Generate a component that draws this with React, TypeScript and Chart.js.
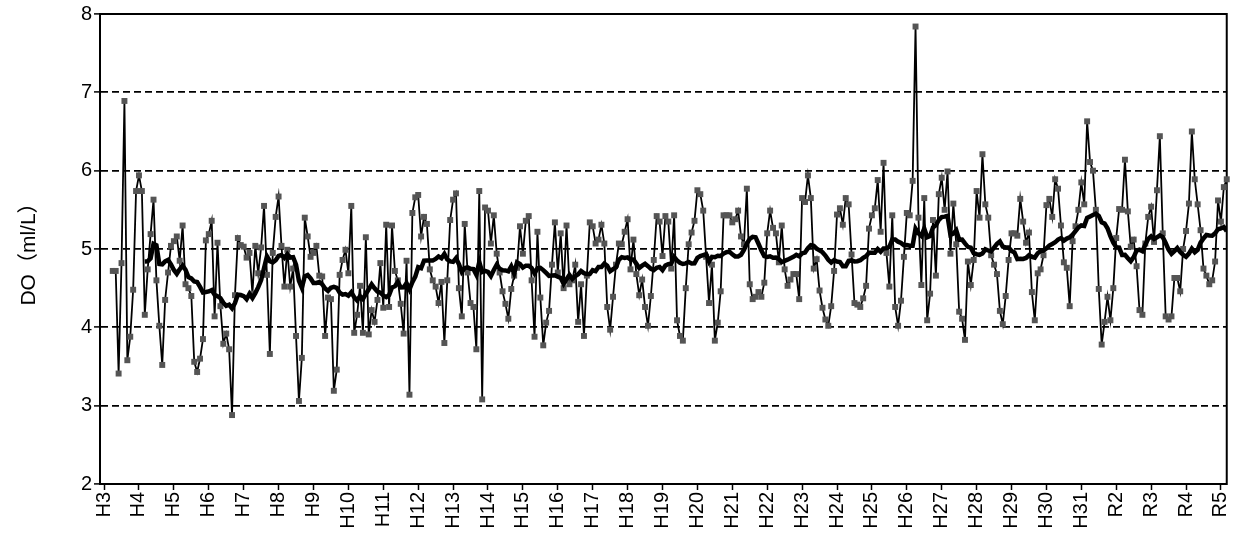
import React, { useEffect, useRef } from 'react';
import { Chart, registerables } from 'chart.js';

Chart.register(...registerables);

// Fiscal-year tick labels (one every 12 months)
const yearLabels = [
  'H3', 'H4', 'H5', 'H6', 'H7', 'H8', 'H9', 'H10', 'H11', 'H12', 'H13', 'H14',
  'H15', 'H16', 'H17', 'H18', 'H19', 'H20', 'H21', 'H22', 'H23', 'H24', 'H25',
  'H26', 'H27', 'H28', 'H29', 'H30', 'H31', 'R2', 'R3', 'R4', 'R5',
];
const monthsPerYear = 12;
// month (counted from the H3 tick) of the first observation
const firstMonth = 3;
// period of the moving-average trend line
const maPeriod = 12;
const yTickValues = [2, 3, 4, 5, 6, 7, 8];

// Monthly DO observations (ml/L)
const doValues = [
  4.72, 4.72, 3.41, 4.82, 6.89, 3.58, 3.88, 4.48, 5.74, 5.94,
  5.74, 4.16, 4.74, 5.19, 5.63, 4.6, 4.02, 3.52, 4.35, 4.7,
  5.04, 5.10, 5.16, 4.85, 5.30, 4.55, 4.5, 4.4, 3.56, 3.43,
  3.6, 3.85, 5.11, 5.19, 5.36, 4.14, 5.08, 4.27, 3.79, 3.92,
  3.72, 2.88, 4.41, 5.14, 5.05, 5.03, 4.89, 4.95, 4.43, 5.04,
  4.69, 5.02, 5.55, 4.67, 3.66, 4.95, 5.41, 5.67, 5.04, 4.52,
  4.99, 4.52, 4.75, 3.89, 3.06, 3.61, 5.40, 5.16, 4.90, 4.95,
  5.04, 4.66, 4.65, 3.89, 4.38, 4.36, 3.19, 3.46, 4.67, 4.86,
  4.99, 4.69, 5.55, 3.93, 4.16, 4.53, 3.93, 5.15, 3.91, 4.22,
  4.07, 4.35, 4.82, 4.25, 5.31, 4.26, 5.30, 4.72, 4.6, 4.3,
  3.92, 4.85, 3.14, 5.46, 5.66, 5.69, 5.16, 5.41, 5.32, 4.74,
  4.6, 4.52, 4.31, 4.58, 3.80, 4.6, 5.37, 5.63, 5.71, 4.50,
  4.14, 5.32, 4.7, 4.31, 4.26, 3.72, 5.74, 3.08, 5.53, 5.49,
  5.07, 5.43, 4.94, 4.7, 4.46, 4.3, 4.11, 4.49, 4.66, 4.76,
  5.29, 4.94, 5.36, 5.42, 4.60, 3.88, 5.22, 4.38, 3.77, 4.06,
  4.21, 4.8, 5.34, 4.70, 5.20, 4.50, 5.30, 4.55, 4.6, 4.80,
  4.07, 4.55, 3.89, 4.66, 5.34, 5.29, 5.07, 5.12, 5.31, 5.07,
  4.26, 3.97, 4.39, 4.8, 5.07, 5.06, 5.22, 5.38, 4.74, 5.12,
  4.68, 4.41, 4.61, 4.26, 4.02, 4.4, 4.86, 5.42, 5.35, 4.91,
  5.42, 5.35, 4.75, 5.43, 4.09, 3.89, 3.83, 4.5, 5.06, 5.21,
  5.36, 5.75, 5.70, 5.49, 4.9, 4.31, 4.80, 3.83, 4.06, 4.46,
  5.43, 5.43, 5.43, 5.34, 5.38, 5.49, 5.16, 5.06, 5.77, 4.55,
  4.36, 4.39, 4.45, 4.39, 4.57, 5.20, 5.49, 5.27, 5.20, 4.83,
  5.30, 4.74, 4.53, 4.61, 4.68, 4.68, 4.36, 5.65, 5.60, 5.94,
  5.65, 4.75, 4.87, 4.47, 4.25, 4.10, 4.02, 4.27, 4.72, 5.44,
  5.52, 5.31, 5.65, 5.57, 4.93, 4.31, 4.29, 4.26, 4.37, 4.53,
  5.26, 5.43, 5.52, 5.88, 5.22, 6.10, 4.95, 4.52, 5.43, 4.26,
  4.02, 4.34, 4.9, 5.46, 5.43, 5.87, 7.84, 5.40, 4.54, 5.65,
  4.09, 4.43, 5.37, 4.66, 5.70, 5.91, 5.50, 5.99, 4.94, 5.58,
  5.06, 4.20, 4.11, 3.84, 4.84, 4.54, 4.86, 5.74, 5.40, 6.21,
  5.57, 5.40, 4.92, 4.80, 4.68, 4.21, 4.04, 4.40, 4.86, 5.20,
  5.20, 5.17, 5.64, 5.35, 5.08, 5.21, 4.45, 4.09, 4.69, 4.74,
  4.92, 5.56, 5.64, 5.41, 5.89, 5.77, 5.3, 4.83, 4.76, 4.27,
  5.10, 5.29, 5.5, 5.85, 5.57, 6.63, 6.11, 6.00, 5.50, 4.49,
  3.78, 4.07, 4.39, 4.09, 4.50, 5.14, 5.51, 5.5, 6.14, 5.48,
  5.03, 5.12, 4.78, 4.22, 4.16, 5.07, 5.41, 5.54, 5.09, 5.75,
  6.44, 5.20, 4.14, 4.1, 4.14, 4.63, 4.63, 4.46, 5.00, 5.23,
  5.58, 6.50, 5.89, 5.57, 5.24, 4.75, 4.66, 4.55, 4.60, 4.84,
  5.62, 5.35, 5.79, 5.89,
];

const FONT = "'Liberation Sans', Arial, 'Noto Sans CJK JP', sans-serif";

const framePlugin = {
  id: 'plotFrame',
  beforeDatasetsDraw(chart: any) {
    const { ctx, chartArea } = chart;
    ctx.save();
    ctx.strokeStyle = '#000';
    ctx.lineWidth = 2;
    ctx.setLineDash([]);
    ctx.strokeRect(chartArea.left, chartArea.top, chartArea.right - chartArea.left, chartArea.bottom - chartArea.top);
    ctx.restore();
  },
};

export default function App() {
  const canvasRef = useRef<HTMLCanvasElement | null>(null);

  useEffect(() => {
    const canvas = canvasRef.current;
    if (!canvas) return;

    const points = doValues.map((v, i) => ({ x: firstMonth + i, y: v }));
    const trend: { x: number; y: number }[] = [];
    for (let i = maPeriod - 1; i < doValues.length; i++) {
      let s = 0;
      for (let k = i - maPeriod + 1; k <= i; k++) s += doValues[k];
      trend.push({ x: firstMonth + i, y: s / maPeriod });
    }
    const lastMonth = firstMonth + doValues.length - 1;

    const chart = new Chart(canvas, {
      type: 'line',
      data: {
        datasets: [
          {
            label: 'moving average',
            data: trend,
            borderColor: '#000',
            borderWidth: 4.5,
            pointRadius: 0,
            tension: 0,
            fill: false,
          },
          {
            label: 'DO',
            data: points,
            borderColor: '#000',
            borderWidth: 1.8,
            pointStyle: 'rect',
            pointRadius: 4.2,
            pointBackgroundColor: '#555555',
            pointBorderColor: '#555555',
            pointBorderWidth: 0,
            tension: 0,
            fill: false,
            clip: false,
          } as any,
        ],
      },
      options: {
        animation: false,
        responsive: false,
        maintainAspectRatio: false,
        events: [],
        layout: { padding: { top: 14, right: 14, left: 0, bottom: 0 } },
        plugins: {
          legend: { display: false },
          tooltip: { enabled: false },
        },
        scales: {
          x: {
            type: 'linear',
            min: -1.4,
            max: lastMonth,
            afterBuildTicks: (scale: any) => {
              scale.ticks = yearLabels.map((_, k) => ({ value: k * monthsPerYear }));
            },
            afterFit: (scale: any) => {
              scale.height = 60;
            },
            grid: {
              drawOnChartArea: false,
              drawTicks: true,
              tickLength: 6,
              tickColor: '#000',
              tickWidth: 1.5,
            },
            border: { display: true, color: '#000', width: 2 },
            ticks: {
              autoSkip: false,
              minRotation: 90,
              maxRotation: 90,
              padding: 2,
              color: '#000',
              font: { family: FONT, size: 20 },
              callback: (v: any) => yearLabels[Math.round(Number(v) / monthsPerYear)] ?? '',
            },
          },
          y: {
            min: 2,
            max: 8,
            afterBuildTicks: (scale: any) => {
              scale.ticks = yTickValues.map((v) => ({ value: v }));
            },
            afterFit: (scale: any) => {
              scale.width = 100;
            },
            grid: {
              color: (c: any) =>
                c.tick && (c.tick.value === 2 || c.tick.value === 8) ? 'rgba(0,0,0,0)' : '#000',
              lineWidth: 1.8,
              drawTicks: true,
              tickLength: 6,
              tickColor: '#000',
              tickWidth: 1.5,
              tickBorderDash: [],
            } as any,
            border: { display: true, color: '#000', width: 2, dash: [7, 4] },
            ticks: {
              padding: 2,
              color: '#000',
              font: { family: FONT, size: 20 },
              callback: (v: any) => String(v),
            },
            title: {
              display: true,
              text: 'DO（ml/L）',
              color: '#000',
              font: { family: FONT, size: 21 },
              padding: { top: 17, bottom: 0 },
            },
          },
        },
      },
      plugins: [framePlugin],
    } as any);

    return () => chart.destroy();
  }, []);

  return (
    <div style={{ position: 'fixed', left: 0, top: 0, width: 1247, height: 544, background: '#fff' }}>
      <canvas ref={canvasRef} width={1247} height={544} style={{ display: 'block', width: 1247, height: 544 }} />
    </div>
  );
}
